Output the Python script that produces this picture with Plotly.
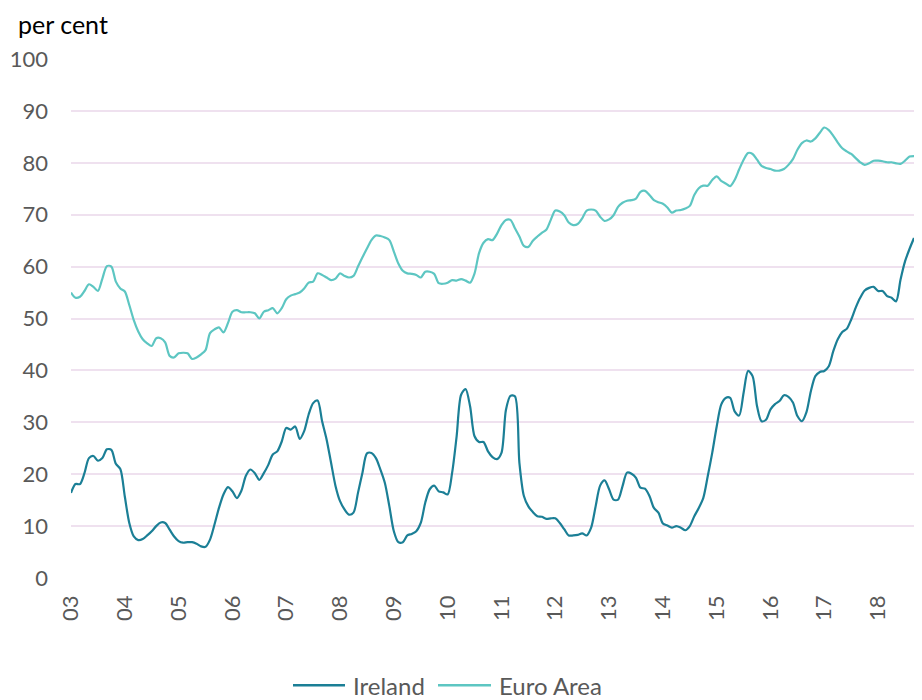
import plotly.graph_objects as go

# Monthly observations, Jan 2003 - Sep 2018 (per cent)
ireland = [
    16.4, 18.1, 18.1, 20.2, 23.1, 23.5, 22.6, 23.1, 24.8, 24.7, 22.0, 21.0,   # 2003
    15.7, 10.6, 8.0, 7.3, 7.5, 8.2, 9.0, 10.0, 10.7, 10.6, 9.3, 8.0,          # 2004
    7.1, 6.8, 6.9, 6.9, 6.6, 6.1, 6.0, 7.4, 10.3, 13.5, 16.1, 17.5,           # 2005
    16.7, 15.4, 16.8, 19.7, 20.9, 20.2, 18.9, 20.2, 21.8, 23.8, 24.4, 26.3,   # 2006
    28.9, 28.6, 29.2, 26.8, 28.3, 31.5, 33.7, 34.2, 30.2, 26.7, 22.2, 17.7,   # 2007
    14.8, 13.2, 12.2, 12.6, 16.4, 20.3, 24.0, 24.1, 23.1, 20.9, 18.3, 13.8,   # 2008
    9.0, 6.9, 6.9, 8.2, 8.5, 9.0, 10.6, 14.5, 17.1, 17.8, 16.7, 16.5,         # 2009
    16.1, 20.3, 27.3, 35.3, 36.4, 33.1, 27.3, 26.2, 26.2, 24.4, 23.3, 22.9,   # 2010
    24.1, 32.4, 35.1, 35.0, 22.2, 15.8, 13.8, 12.7, 11.9, 11.8, 11.4, 11.5,   # 2011
    11.5, 10.6, 9.4, 8.2, 8.2, 8.3, 8.6, 8.2, 9.7, 13.8, 17.8, 18.8,          # 2012
    17.1, 15.1, 15.1, 17.7, 20.3, 20.1, 19.3, 17.4, 17.2, 15.8, 13.5, 12.6,   # 2013
    10.5, 10.1, 9.7, 10.0, 9.7, 9.2, 10.0, 11.9, 13.5, 15.4, 19.6, 24.1,      # 2014
    29.2, 33.4, 34.7, 34.7, 32.1, 31.3, 35.7, 39.9, 38.9, 33.1, 30.2, 30.5,   # 2015
    32.5, 33.5, 34.1, 35.2, 34.9, 33.8, 31.2, 30.2, 31.9, 36.0, 38.9, 39.7,   # 2016
    39.9, 40.8, 43.7, 46.0, 47.4, 48.0, 49.8, 52.1, 54.0, 55.4, 55.9, 56.1,   # 2017
    55.3, 55.3, 54.3, 54.0, 53.3, 57.5, 61.0, 63.4, 65.5,                     # 2018
]

euro_area = [
    55.0, 54.0, 54.2, 55.3, 56.6, 56.1, 55.3, 57.7, 60.1, 60.0, 57.1, 55.8,   # 2003
    55.2, 52.6, 49.7, 47.5, 46.0, 45.2, 44.7, 46.2, 46.2, 45.4, 42.8, 42.5,   # 2004
    43.3, 43.4, 43.3, 42.2, 42.5, 43.1, 43.9, 47.2, 47.9, 48.3, 47.3, 49.1,   # 2005
    51.3, 51.6, 51.2, 51.2, 51.2, 51.0, 50.0, 51.3, 51.6, 52.0, 51.0, 52.0,   # 2006
    53.7, 54.4, 54.7, 55.0, 55.8, 56.9, 57.1, 58.7, 58.4, 57.9, 57.4, 57.7,   # 2007
    58.7, 58.2, 57.9, 58.2, 60.0, 61.8, 63.5, 65.1, 66.0, 65.9, 65.6, 65.1,   # 2008
    62.9, 60.6, 59.2, 58.7, 58.6, 58.4, 57.9, 59.0, 59.0, 58.6, 56.8, 56.7,   # 2009
    56.9, 57.4, 57.3, 57.6, 57.3, 56.9, 58.7, 62.6, 64.6, 65.3, 65.1, 66.3,   # 2010
    68.0, 69.0, 69.0, 67.4, 65.8, 64.0, 63.8, 65.0, 65.8, 66.5, 67.1, 69.0,   # 2011
    70.8, 70.6, 69.9, 68.5, 68.0, 68.2, 69.3, 70.8, 71.0, 70.8, 69.6, 68.8,   # 2012
    69.1, 69.9, 71.5, 72.3, 72.7, 72.8, 73.1, 74.4, 74.6, 73.8, 72.8, 72.4,   # 2013
    72.1, 71.4, 70.4, 70.8, 70.9, 71.2, 71.7, 73.8, 75.1, 75.6, 75.6, 76.7,   # 2014
    77.4, 76.5, 76.0, 75.5, 76.7, 78.7, 80.6, 81.9, 81.7, 80.6, 79.4, 79.0,   # 2015
    78.8, 78.5, 78.5, 78.8, 79.6, 80.7, 82.5, 83.8, 84.3, 84.1, 84.7, 85.8,   # 2016
    86.8, 86.3, 85.2, 83.9, 82.8, 82.2, 81.7, 80.9, 80.1, 79.6, 79.9, 80.4,   # 2017
    80.4, 80.3, 80.1, 80.1, 79.9, 79.8, 80.4, 81.2, 81.3,                     # 2018
]

series_names = ["Ireland", "Euro Area"]
series_colors = ["#1B7F96", "#5DC6C2"]
year_labels = ["03", "04", "05", "06", "07", "08", "09", "10",
               "11", "12", "13", "14", "15", "16", "17", "18"]
y_ticks = [0, 10, 20, 30, 40, 50, 60, 70, 80, 90, 100]

x_idx = list(range(len(ireland)))
tick_positions = [12 * i for i in range(len(year_labels))]

font_family = "Lato, 'Open Sans', sans-serif"
grid_col = "#EFE1EF"
text_col = "#595959"

# The page body adds an 8px offset and the visible area ends ~8px early on the right;
# the figure is sized so the whole plot stays visible.
W, H = 906, 692
ML, MR, MT, MB = 63, 0, 50.5, 121.5
plot_w = W - ML - MR
plot_h = H - MT - MB


def px_x(fx):
    return (fx - ML) / plot_w


def px_y(fy):
    return (H - MB - fy) / plot_h


fig = go.Figure()
for name, vals, col in zip(series_names, [ireland, euro_area], series_colors):
    fig.add_trace(go.Scatter(
        x=x_idx, y=vals, name=name, mode="lines", showlegend=False,
        line=dict(color=col, width=2.2, shape="spline", smoothing=0.8),
    ))

# Manual legend (long line samples as in reference)
leg_y = px_y(678)
leg_items = [(285, 337, 343), (430, 483, 489)]
shapes = []
annotations = []
for (x0, x1, tx), name, col in zip(leg_items, series_names, series_colors):
    shapes.append(dict(type="line", xref="paper", yref="paper",
                       x0=px_x(x0), x1=px_x(x1), y0=leg_y, y1=leg_y,
                       line=dict(color=col, width=2.5)))
    annotations.append(dict(text=name, xref="paper", yref="paper",
                            x=px_x(tx), y=leg_y, xanchor="left", yanchor="middle",
                            showarrow=False,
                            font=dict(size=24, color=text_col, family=font_family)))

annotations.append(dict(text="per cent", xref="paper", yref="paper",
                        x=px_x(8), y=px_y(15), xanchor="left", yanchor="middle",
                        showarrow=False,
                        font=dict(size=25, color="#000000", family=font_family)))

fig.update_layout(
    width=W, height=H,
    margin=dict(l=ML, r=MR, t=MT, b=MB, autoexpand=False),
    paper_bgcolor="white", plot_bgcolor="white",
    font=dict(family=font_family, size=22, color=text_col),
    showlegend=False,
    shapes=shapes,
    annotations=annotations,
)

fig.update_xaxes(
    range=[0, len(ireland) - 1], tickmode="array",
    tickvals=tick_positions, ticktext=year_labels, tickangle=-90,
    showgrid=False, zeroline=False, showline=False, ticks="",
    tickfont=dict(size=22, color=text_col), ticklabelstandoff=12,
    automargin=False,
)
fig.update_yaxes(
    range=[0, 100], tickmode="array", tickvals=y_ticks,
    showgrid=True, gridcolor=grid_col, gridwidth=2,
    zeroline=False, showline=False, ticks="",
    tickfont=dict(size=22, color=text_col), ticklabelstandoff=22,
    automargin=False,
)

fig.write_html("out.html")
